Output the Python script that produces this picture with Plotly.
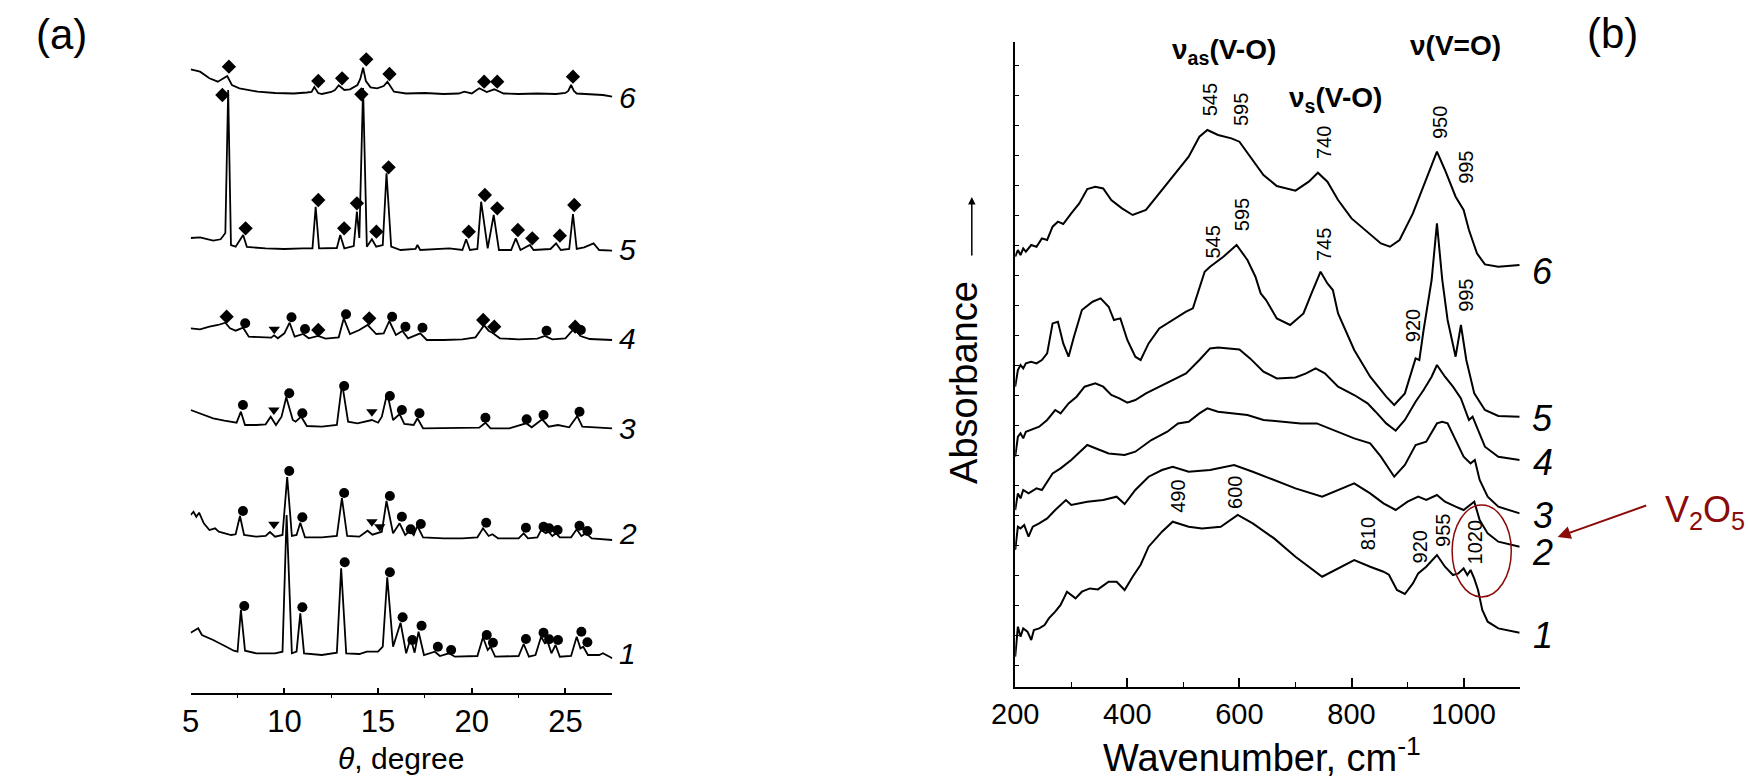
import plotly.graph_objects as go

# ---------------- Panel (a): XRD patterns (theta, intensity a.u.) ----------------
xrd1_theta = [5, 5.2, 5.4, 5.6, 6.2, 6.9, 7.3, 7.5, 7.68, 7.9, 8.5, 9.5, 9.9, 10.12, 10.4, 10.65, 10.85, 11.05, 12.0, 12.8,
              13.03, 13.3, 14.0, 14.4, 15.0, 15.25, 15.49, 15.8, 16.2, 16.5, 16.74, 16.95, 17.16, 17.45, 18.03, 18.3, 18.78,
              19.1, 20.3, 20.6, 20.85, 21.0, 21.25, 22.5, 22.77, 23.05, 23.4, 23.7, 23.9, 24.05, 24.25, 24.47, 24.7, 25.3,
              25.6, 25.8, 25.95, 26.2, 26.8, 27.0, 27.5]
xrd1_int = [60.3, 62.3, 64.7, 58, 53, 46.3, 42.3, 41.3, 83, 42.3, 39.7, 39.7, 41.3, 178, 39.7, 41.3, 79.7, 39.7, 38, 40.3,
            124.7, 39.7, 39, 41.3, 41.3, 46.3, 115.7, 46.3, 70.3, 39.7, 54.7, 40.3, 61.3, 38, 41.3, 37, 39.7,
            36.3, 37, 55.7, 43, 46.3, 36.3, 37, 49, 36.3, 38, 56.3, 49.7, 51.3, 39.7, 48, 36.3, 37,
            56.3, 44.7, 46.3, 38, 38, 39.7, 34.7]

xrd2_theta = [5, 5.15, 5.3, 5.45, 5.7, 6.0, 6.3, 6.5, 7.16, 7.4, 7.63, 7.85, 8.5, 9.0, 9.23, 9.5, 9.9, 10.15, 10.4, 10.65,
              10.85, 11.1, 12.0, 12.8, 13.07, 13.35, 14.0, 14.44, 14.7, 15.0, 15.2, 15.45, 15.8, 16.15, 16.45, 16.7, 16.9,
              17.1, 17.4, 18.5, 19.5, 20.3, 20.6, 20.9, 21.1, 21.4, 22.5, 22.77, 23.0, 23.5, 23.7, 23.95, 24.1, 24.3, 24.5,
              24.7, 25.3, 25.6, 25.85, 26.1, 26.4, 27.5]
xrd2_int = [178, 181.3, 176.3, 180.3, 169.7, 163, 164.7, 161.3, 158, 158.7, 177, 158, 156.3, 157, 161, 156.3, 158, 216, 157, 158,
            170.3, 155.7, 155.7, 157, 195, 157, 156.3, 162.3, 158.3, 159.7, 161.3, 192, 159.7, 169.7, 158, 162.3, 158,
            167, 155.7, 154.7, 154.7, 155.7, 164.7, 157, 158.7, 154.7, 154.7, 159.7, 154.7, 155.7, 163, 159.7, 161.3, 157, 159.7,
            155.7, 155.7, 163.7, 157, 159.7, 154.7, 153]

xrd3_theta = [5, 5.5, 6.2, 6.8, 7.16, 7.45, 7.68, 7.9, 8.5, 9.0, 9.27, 9.55, 9.85, 10.1, 10.45, 10.6, 10.9, 11.2, 12.0, 12.8,
              13.08, 13.4, 13.9, 14.3, 14.67, 15.0, 15.2, 15.49, 15.8, 16.15, 16.4, 16.9, 17.1, 17.4, 18.5, 19.5, 20.4, 20.73,
              21.0, 22.0, 22.9, 23.2, 23.76, 24.1, 24.6, 25.2, 25.63, 25.9, 26.5, 27.5]
xrd3_int = [283, 279.7, 274.7, 272.3, 271.3, 270.3, 281.3, 268, 268, 268.7, 276.3, 268, 276.3, 295.7, 273, 271.3, 276.3, 267, 266.3, 268,
            309.7, 271.3, 269.7, 271.3, 273, 270.3, 276.3, 299.7, 273, 279, 269, 268, 274.7, 264.7, 264.7, 264.7, 265.3, 270.3,
            264.7, 264.7, 269.7, 265.7, 273.7, 266.3, 268, 265.7, 277, 266.3, 265.7, 264.7]

xrd4_theta = [5, 5.5, 6.0, 6.46, 6.85, 7.1, 7.4, 7.8, 8.1, 8.8, 9.3, 9.45, 9.65, 10.0, 10.28, 10.55, 11.0, 11.3, 11.8, 12.2,
              12.9, 13.17, 13.5, 14.0, 14.44, 14.9, 15.3, 15.6, 15.95, 16.3, 16.6, 17.25, 17.6, 18.5, 19.5, 20.2, 20.66,
              20.9, 21.1, 21.5, 22.5, 23.5, 23.9, 24.3, 25.0, 25.47, 25.8, 26.3, 27.5]
xrd4_int = [364.7, 363.7, 366.3, 368, 370.3, 364.7, 362.3, 365.3, 356.3, 355.7, 355.3, 357.7, 354.7, 359.7, 370.3, 356.3, 359, 354.7, 357, 354.3,
            355.7, 374.7, 359, 363, 368, 359, 359.7, 372, 358, 362, 354.7, 359.7, 353, 353, 353.7, 355.7, 367.7,
            362.3, 360.3, 354.7, 353.7, 354.3, 357, 353.7, 354.7, 364.7, 357, 354, 353]

xrd5_theta = [5, 5.5, 6.2, 6.6, 6.85, 7.0, 7.15, 7.4, 7.8, 8.0, 9.0, 10.0, 11.0, 11.5, 11.67, 11.85, 12.8, 12.98, 13.2, 13.7,
              13.87, 14.0, 14.2, 14.4, 14.67, 14.9, 15.25, 15.45, 15.7, 16.2, 17.0, 17.1, 17.25, 18.8, 19.5, 19.7, 19.9, 20.3,
              20.5, 20.85, 21.17, 21.45, 22.1, 22.35, 22.6, 23.1, 23.3, 24.2, 24.5, 24.75, 25.2, 25.4, 25.6, 26.0, 26.5, 26.8, 27.5]
xrd5_int = [455, 455.7, 452.3, 453.7, 460, 603, 448, 446.3, 458, 446, 444.7, 444, 444.7, 444.7, 486.3, 444.7, 445, 458, 444.7, 447,
            481.3, 455, 605, 446.3, 453.7, 446.3, 448, 519.7, 446.3, 443, 444, 448, 443, 444.7, 443, 453.7, 443, 444,
            491.3, 444.7, 478, 443, 443, 454.7, 443, 448, 443, 444, 449.7, 443, 444, 479, 444, 445.7, 449.7, 443, 442.3]

xrd6_theta = [5, 5.5, 6.0, 6.45, 6.95, 7.2, 7.6, 8.57, 9.5, 10.5, 11.2, 11.45, 11.6, 11.8, 12.0, 12.5, 12.7, 12.9, 13.2, 13.5,
              13.9, 14.05, 14.2, 14.35, 14.6, 14.95, 15.3, 15.5, 15.85, 16.5, 17.5, 18.5, 19.3, 19.6, 20.0, 20.4, 20.8, 21.2,
              21.7, 22.5, 23.5, 24.5, 25.0, 25.15, 25.3, 25.45, 25.6, 26.3, 27.0, 27.5]
xrd6_int = [623.7, 621.3, 614.7, 611.3, 617, 608, 604.7, 601.3, 600, 599.5, 600.5, 601, 606, 600, 599, 601, 603, 607.7, 603, 603.7,
            608, 614, 625.3, 612, 605.7, 604.7, 607, 611.3, 601.3, 599.5, 600, 599, 599.5, 601.3, 599.5, 604.7, 601, 603.7,
            599.5, 599, 599.5, 599, 600, 602, 608, 602, 599.5, 599, 598, 596.3]

# phase markers (theta, height)
dia_theta = [7.04, 11.81, 13.08, 14.37, 15.61, 20.66, 21.36, 25.4,
             6.69, 7.93, 11.81, 13.19, 13.87, 14.11, 14.91, 15.56, 19.84, 20.7, 21.36, 22.46, 23.23, 24.7, 25.47,
             6.92, 11.81, 14.53, 20.61, 21.2, 25.52]
dia_int = [626.3, 612, 614.7, 633.7, 619, 611.3, 611.3, 616.3,
           598, 464.7, 493, 464.7, 489.7, 598.7, 461.3, 525.7, 461.3, 498, 484.7, 463, 454.7, 457.3, 488,
           376.3, 363, 374.7, 373, 366.3, 366.3]
dot_theta = [7.91, 10.38, 11.1, 13.29, 15.75, 16.46, 17.37, 23.99, 25.82,
             7.79, 10.26, 10.96, 13.19, 15.63, 16.27, 17.21, 20.73, 22.93, 23.83, 25.75,
             7.79, 10.26, 10.96, 13.19, 15.63, 16.27, 16.74, 17.28, 20.77, 22.89, 23.83, 24.13, 24.58, 25.75, 26.17,
             7.86, 10.96, 13.22, 15.63, 16.31, 16.83, 17.32, 18.19, 18.9, 20.8, 21.13, 22.89, 23.83, 24.13, 24.6, 25.85, 26.17]
dot_int = [369.7, 375.7, 364, 378.7, 376.3, 366.3, 365.3, 362.3, 363,
           288, 299.7, 279.7, 307, 297, 283, 279.7, 275.3, 273.7, 278, 281.3,
           182, 222, 175.7, 200, 197, 176.3, 163.7, 169, 170.3, 165.3, 166.3, 164.7, 163, 167.3, 162,
           87, 85.7, 130.7, 120.7, 75.7, 53, 67.3, 46.3, 43, 58, 50.3, 54, 60.3, 53.7, 53, 61.3, 50.7]
tri_theta = [9.46, 9.44, 14.67, 9.44, 14.67, 15.09]
tri_int = [363.7, 283, 281.3, 168.7, 171.3, 166.3]

xrd_labels = ["1", "2", "3", "4", "5", "6"]
xrd_ticks = [5, 10, 15, 20, 25]

# ---------------- Panel (b): IR spectra (wavenumber, absorbance a.u.) ----------------
ir1_wn = [200, 204.8, 209.5, 214.3, 221.9, 228.6, 233.3, 242.8, 252.4, 260, 271.4, 281, 292.4, 307.6, 319, 333.3, 347.6,
          366.7, 381, 395.2, 409.5, 423.8, 438, 461.9, 481, 509.5, 533.3, 566.7, 597, 623.8, 661.9, 700, 747.6, 776,
          804.8, 833.3, 857, 866.7, 881, 895.2, 909.5, 919, 933.3, 952.4, 966.7, 981, 990.5, 1000, 1006.7, 1012.4, 1019,
          1025.7, 1033.3, 1042.9, 1061.9, 1100]
ir1_ab = [30, 60, 50, 58.3, 55, 46.7, 56.7, 58.3, 61.7, 68.3, 75, 81.7, 95, 88.3, 95, 98.3, 97.3,
          105, 105, 96.7, 110, 122, 140, 155, 165, 160, 158.3, 160, 171.7, 163.3, 148.3, 130, 110, 118.3,
          126.7, 120, 115, 112, 96.7, 92.7, 103.3, 113.3, 120, 131.7, 120, 111.7, 113.3, 118.3, 111.7, 116.7, 108,
          96.7, 76.7, 65, 58.3, 54]

ir2_wn = [200, 204.8, 209.5, 216, 223.8, 231.4, 242.8, 257, 271.4, 290.5, 300, 314.3, 328.6, 357, 381, 395.2, 414.3,
          438, 461.9, 481, 509.5, 547.6, 576.2, 590.5, 623.8, 661.9, 700, 747.6, 776, 804.8, 833.3, 857, 878.8, 900,
          919, 933.3, 952.4, 966.7, 985.7, 1000, 1019, 1028.6, 1042.9, 1061.9, 1100]
ir2_ab = [136.7, 160, 158.3, 161.7, 150, 160, 163.3, 168.3, 176.7, 186.7, 181.7, 183.3, 185, 186.7, 190, 182.7, 196.7,
          210, 216.7, 220, 215, 216.7, 220, 221.7, 215, 206.7, 198.3, 190, 196.7, 203.3, 193.3, 183.3, 176.7, 185,
          190, 186.7, 191.7, 185, 180, 176.7, 185, 166.7, 153.3, 145, 140]

ir3_wn = [200, 204.8, 209.5, 214.3, 223.8, 238, 247.6, 266.7, 281, 300, 328.6, 342.9, 366.7, 395.2, 414.3, 442.9, 471.4,
          490.5, 509.5, 528.6, 542.9, 561.9, 585.7, 614.3, 642.9, 671.4, 709.5, 738, 776, 804.8, 833.3, 852.4, 876.2,
          895.2, 914.3, 933.3, 952.4, 961.9, 971.4, 985.7, 1000, 1012.4, 1020, 1028.6, 1042.9, 1061.9, 1100]
ir3_ab = [176.7, 193.3, 188.3, 196.7, 193.3, 198.3, 196.7, 213.3, 218.3, 226.7, 241.7, 238.3, 233.3, 231.7, 235, 246.7, 255,
          263.3, 265, 273.3, 278.3, 275, 273.3, 271.7, 266.7, 265, 263.3, 263.3, 254.8, 248.3, 243.3, 230, 210,
          221.7, 241.7, 245, 263.3, 265, 263.3, 246.7, 230, 223.3, 226.7, 206.7, 190, 180, 173.3]

ir4_wn = [200, 204.8, 209.5, 214.3, 219, 228.6, 242.8, 257, 271.4, 281, 295.2, 309.5, 323.8, 342.9, 357, 371.4, 385.7,
          400, 414.3, 433.3, 457, 481, 504.8, 528.6, 547.6, 561.9, 581, 600, 619, 642.9, 666.7, 700, 719, 736, 752.4,
          776, 804.8, 828.6, 842.9, 861.9, 878.8, 895.2, 914.3, 928.6, 942.9, 952.4, 966.7, 981, 995.2, 1009.5, 1016,
          1023.8, 1038, 1061.9, 1100]
ir4_ab = [230, 250, 253.3, 248.3, 255, 256.7, 260, 266.7, 276.7, 273.3, 283.3, 290, 300, 303.3, 300, 291.7, 288.3,
          284, 286.7, 293.3, 300, 306.7, 313.3, 326.7, 338.3, 339.3, 338.3, 337.3, 328.3, 315, 308.3, 309.3, 313.3, 318.3, 313.3,
          300, 291.7, 283.3, 275, 263.3, 256, 266.7, 285, 296.7, 310, 321.7, 310, 300, 288.3, 266.7, 270,
          260, 240, 230, 226.7]

ir5_wn = [200, 204.8, 209.5, 214.3, 219, 228.6, 238, 247.6, 257, 266.7, 276.2, 285.7, 295.2, 304.8, 319, 338, 352.4,
          366.7, 376.2, 387.6, 400, 414.3, 423.8, 438, 457, 481, 504.8, 517, 528.6, 538, 547.6, 571.4, 595, 614.3,
          628.6, 638, 647.6, 666.7, 690.5, 714.3, 728.6, 744.8, 757, 766.7, 776, 804.8, 833.3, 861.9, 876.2, 895.2,
          914.3, 921, 928.6, 942.9, 952.4, 961.9, 971.4, 985.7, 995.2, 1004.8, 1019, 1038, 1061.9, 1100]
ir5_ab = [300, 316.7, 321.7, 318.3, 323.3, 325, 323.3, 326.7, 333.3, 363.3, 365, 343.3, 330, 350, 376.7, 385, 388.3,
          380, 366.7, 368.3, 346.7, 330, 326.7, 343.3, 358.3, 366.7, 375, 378.3, 400, 415, 420, 430, 441.7, 426.7,
          410, 393.3, 386.7, 368.3, 361.7, 373.3, 393.3, 415, 403.3, 396.7, 373.3, 336.7, 310, 290, 281.7, 293.3,
          328.3, 326.7, 356.7, 406.7, 463.3, 406.7, 366.7, 330, 361.7, 326.7, 293.3, 276.7, 270.7, 270]

ir6_wn = [200, 204.8, 209.5, 214.3, 219, 228.6, 238, 247.6, 257, 266.7, 276.2, 285.7, 300, 314.3, 328.6, 342.9, 357,
          371.4, 390.5, 409.5, 433.3, 457, 481, 509.5, 528.6, 542.9, 561.9, 585.7, 600, 619, 642.9, 666.7, 700, 723.8,
          740, 757, 776, 800, 828.6, 852.4, 868.6, 885.7, 909.5, 933.3, 952.4, 966.7, 985.7, 1000, 1009.5, 1023.8,
          1038, 1061.9, 1100]
ir6_ab = [430, 436.7, 431.7, 438.3, 435, 441.7, 440, 448.3, 446.7, 460, 465, 462.7, 473.3, 483.3, 497.7, 500, 498.3,
          486.7, 478.3, 471.7, 476.7, 493.3, 510, 530, 550, 556.7, 551.7, 548.3, 545, 530, 511.7, 500.7, 496, 505,
          514, 505, 486.7, 468.3, 455, 443.3, 440, 446.7, 473.3, 506.7, 535, 516.7, 490, 476.7, 456.7, 433.3,
          422.3, 420, 421.7]

ir_labels = ["1", "2", "3", "4", "5", "6"]
ir_ticks = [200, 400, 600, 800, 1000]

# band-position labels (text, wavenumber)
band_text = ["545", "595", "740", "950", "995", "545", "595", "745", "995", "920",
             "490", "600", "810", "920", "955", "1020"]
band_wn = [548, 603, 751, 958, 1004, 552, 605, 751, 1004, 910, 490, 592, 830, 923, 963, 1021]

# ---------------- figure ----------------
W, H = 1748, 776
FONT = "Liberation Sans, Arial, sans-serif"
RED = "#8B0A0A"


def px(x):
    return x / W


def py(y):
    return 1 - y / H


fig = go.Figure()

xrd_sets = [(xrd1_theta, xrd1_int), (xrd2_theta, xrd2_int), (xrd3_theta, xrd3_int),
            (xrd4_theta, xrd4_int), (xrd5_theta, xrd5_int), (xrd6_theta, xrd6_int)]
for th, it in xrd_sets:
    fig.add_trace(go.Scatter(x=th, y=it, mode="lines", line=dict(color="black", width=1.8),
                             xaxis="x", yaxis="y", hoverinfo="skip"))

fig.add_trace(go.Scatter(x=dot_theta, y=dot_int, mode="markers",
                         marker=dict(symbol="circle", size=10, color="black"), xaxis="x", yaxis="y"))
fig.add_trace(go.Scatter(x=dia_theta, y=dia_int, mode="markers",
                         marker=dict(symbol="diamond", size=11, color="black"), xaxis="x", yaxis="y"))
fig.add_trace(go.Scatter(x=tri_theta, y=tri_int, mode="markers",
                         marker=dict(symbol="triangle-down", size=10, color="black"), xaxis="x", yaxis="y"))

ir_sets = [(ir1_wn, ir1_ab), (ir2_wn, ir2_ab), (ir3_wn, ir3_ab),
           (ir4_wn, ir4_ab), (ir5_wn, ir5_ab), (ir6_wn, ir6_ab)]
for wn, ab in ir_sets:
    fig.add_trace(go.Scatter(x=wn, y=ab, mode="lines", line=dict(color="black", width=2),
                             xaxis="x2", yaxis="y2", hoverinfo="skip"))

# axes geometry (reference pixels)
a_x0, a_x1, a_base = 169, 596.5, 693
b_x0, b_x1, b_base, b_top = 1005, 1516.5, 686.7, 42

fig.update_layout(
    width=W, height=H, margin=dict(l=0, r=0, t=0, b=0),
    paper_bgcolor="white", plot_bgcolor="white", showlegend=False,
    font=dict(family=FONT, color="black"),
    xaxis=dict(domain=[px(a_x0), px(a_x1)], range=[5, 27.5], anchor="y",
               showline=True, linecolor="black", linewidth=2, showgrid=False, zeroline=False,
               ticks="inside", ticklen=5, tickwidth=1.5, tickcolor="black",
               tickvals=xrd_ticks, tickfont=dict(size=31, family=FONT),
               minor=dict(ticks="outside", ticklen=3, tickwidth=1.2, tickcolor="black",
                          tickvals=[7.5, 12.5, 17.5, 22.5], showgrid=False)),
    yaxis=dict(domain=[py(a_base), 1], range=[0, a_base], visible=False, anchor="x"),
    xaxis2=dict(domain=[px(b_x0), px(b_x1)], range=[200, 1100], anchor="y2",
                showline=True, linecolor="black", linewidth=2, showgrid=False, zeroline=False,
                ticks="inside", ticklen=9, tickwidth=1.5, tickcolor="black",
                tickvals=ir_ticks, tickfont=dict(size=29, family=FONT),
                minor=dict(ticks="inside", ticklen=5, tickwidth=1.2, tickcolor="black",
                           tickvals=[300, 500, 700, 900, 1100], showgrid=False)),
    yaxis2=dict(domain=[py(b_base), py(b_top)], range=[0, b_base - b_top], anchor="x2",
                showline=True, linecolor="black", linewidth=1.5, showgrid=False, zeroline=False,
                ticks="inside", ticklen=4, tickwidth=1, tickcolor="black",
                tickvals=[21.7 + 30 * k for k in range(21)], showticklabels=False),
)

ann = []


def add_text(text, x, y, size, xanchor="center", yanchor="middle", angle=0, color="black", xref="paper", yref="paper"):
    ann.append(dict(text=text, x=x, y=y, xref=xref, yref=yref, showarrow=False,
                    xanchor=xanchor, yanchor=yanchor, textangle=angle,
                    font=dict(size=size, color=color, family=FONT)))


# panel letters
add_text("(a)", px(38), py(35), 42)
add_text("(b)", px(1611), py(34), 42)

# panel (a) curve labels (placed just right of the axis end)
xrd_label_px = [653, 533, 428, 338, 250, 97]
for lab, yv in zip(xrd_labels, xrd_label_px):
    add_text("<i>%s</i>" % lab, px(612), py(yv), 30)

add_text("<i>θ</i>, degree", px(382), py(758), 30)

# panel (b) curve labels
ir_label_px = [635, 552, 515, 462, 418, 271]
for lab, yv in zip(ir_labels, ir_label_px):
    add_text("<i>%s</i>" % lab, px(1540), py(yv), 36)

add_text("Wavenumber, cm<sup>-1</sup>", px(1255), py(755), 38)
add_text("Absorbance", px(953), py(382), 38, angle=-90)

# vibration assignments
add_text("<b>ν<sub>as</sub>(V-O)</b>", px(1217), py(52), 28)
add_text("<b>ν<sub>s</sub>(V-O)</b>", px(1330), py(99), 28)
add_text("<b>ν(V=O)</b>", px(1451), py(45), 28)

# band numbers (rotated)
band_y = [586.7, 576.7, 543.7, 563.7, 519.7, 444.7, 471.7, 441.7, 391.7, 360.7,
          190.7, 194.7, 152.7, 139.7, 156.7, 144.7]
for t, wv, yv in zip(band_text, band_wn, band_y):
    add_text(t, wv, yv, 20, angle=-90, xref="x2", yref="y2")

# V2O5 annotation
add_text("V<sub>2</sub>O<sub>5</sub>", px(1662), py(512), 36, xanchor="left", color=RED)
ann.append(dict(x=px(1555), y=py(537), xref="paper", yref="paper", ax=90, ay=-32,
                showarrow=True, arrowhead=2, arrowsize=1.3, arrowwidth=2, arrowcolor=RED, text=""))

# absorbance arrow
ann.append(dict(x=px(961), y=py(197), xref="paper", yref="paper", ax=0, ay=60,
                showarrow=True, arrowhead=2, arrowsize=1, arrowwidth=1.5, arrowcolor="black", text=""))

fig.update_layout(annotations=ann)

fig.add_shape(type="circle", xref="paper", yref="paper",
              x0=px(1448), x1=px(1508), y0=py(597), y1=py(505),
              line=dict(color=RED, width=1.5))

fig.write_html("out.html")
